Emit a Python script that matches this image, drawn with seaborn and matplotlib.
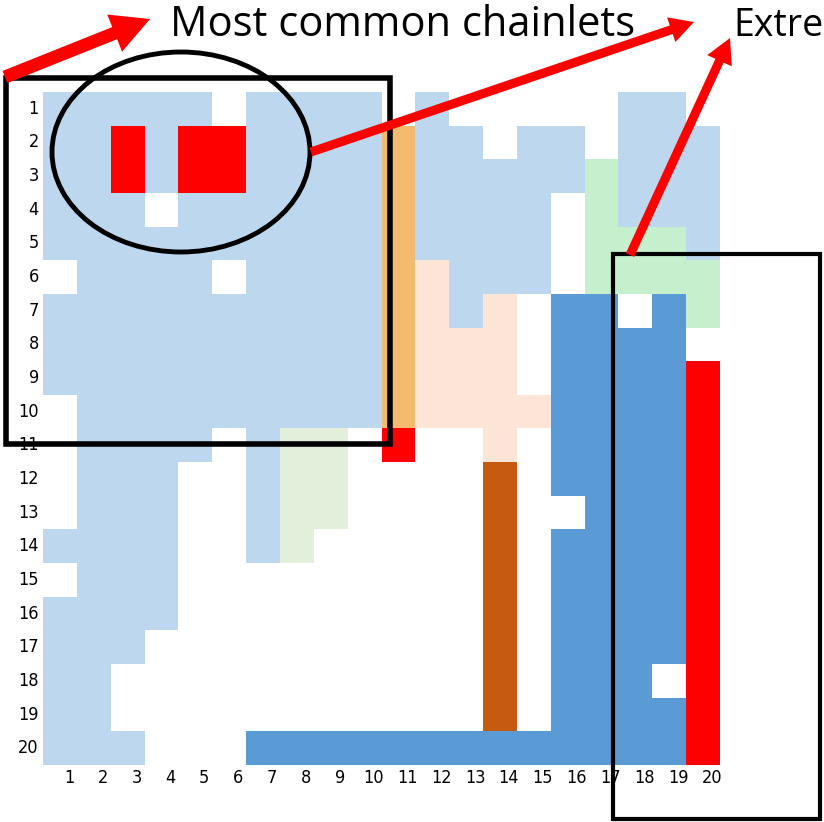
import matplotlib
matplotlib.use("Agg")
import matplotlib.pyplot as plt
import matplotlib.transforms as mtransforms
from matplotlib.colors import ListedColormap
from matplotlib.patches import Rectangle, Ellipse, FancyArrowPatch
import pandas as pd
import seaborn as sns

# chainlet class codes per cell (rows = input count, columns = output count)
row_labels = [str(i) for i in range(1, 21)]
col_labels = [str(i) for i in range(1, 21)]
cell_codes = [
    "LLLLLWLLLLWLWWWWWLLW",
    "LLRLRRLLLLOLLWLLWLLL",
    "LLRLRRLLLLOLLLLLGLLL",
    "LLLWLLLLLLOLLLLWGLLL",
    "LLLLLLLLLLOLLLLWGGGL",
    "WLLLLWLLLLOPLLLWGGGG",
    "LLLLLLLLLLOPLPWMMWMG",
    "LLLLLLLLLLOPPPWMMMMW",
    "LLLLLLLLLLOPPPWMMMMR",
    "WLLLLLLLLLOPPPPMMMMR",
    "WLLLLWLVVWRWWPWMMMMR",
    "WLLLWWLVVWWWWBWMMMMR",
    "WLLLWWLVVWWWWBWWMMMR",
    "LLLLWWLVWWWWWBWMMMMR",
    "WLLLWWWWWWWWWBWMMMMR",
    "LLLLWWWWWWWWWBWMMMMR",
    "LLLWWWWWWWWWWBWMMMMR",
    "LLWWWWWWWWWWWBWMMMWR",
    "LLWWWWWWWWWWWBWMMMMR",
    "LLLWWWMMMMMMMMMMMMMR",
]
class_keys = ["W", "L", "R", "O", "P", "G", "V", "B", "M"]
class_colors = ["#FFFFFF", "#BDD7EE", "#FF0000", "#F3BB6E", "#FCE4D6",
                "#C6EFCE", "#E2EFDA", "#C55A11", "#5B9BD5"]

index_of = {k: i for i, k in enumerate(class_keys)}
grid = pd.DataFrame([[index_of[c] for c in row] for row in cell_codes],
                    index=row_labels, columns=col_labels)

W, H = 824, 822
PT = 0.72  # points per pixel at 100 dpi
fig = plt.figure(figsize=(W / 100, H / 100), dpi=100)


def fpos(x, y):
    return (x / W, 1 - y / H)


ax = fig.add_axes([43 / W, 1 - 765 / H, (720 - 43) / W, (765 - 92) / H])
sns.heatmap(grid, ax=ax, cmap=ListedColormap(class_colors), vmin=-0.5,
            vmax=len(class_keys) - 0.5, cbar=False, linewidths=0,
            xticklabels=col_labels, yticklabels=row_labels)
ax.tick_params(length=0, pad=3)
for t in ax.get_xticklabels() + ax.get_yticklabels():
    t.set_fontsize(13)
    t.set_fontstretch("condensed")
    t.set_rotation(0)
shift = mtransforms.ScaledTranslation(9 / 100, 0, fig.dpi_scale_trans)
for t in ax.get_xticklabels():
    t.set_transform(t.get_transform() + shift)
ax.set_xlabel("")
ax.set_ylabel("")

# highlight boxes and callouts
fig.add_artist(Rectangle(fpos(6, 444), (390 - 6) / W, (444 - 78) / H,
                         transform=fig.transFigure, fill=False,
                         edgecolor="black", linewidth=4))
fig.add_artist(Rectangle(fpos(613, 819), (820 - 613) / W, (819 - 254) / H,
                         transform=fig.transFigure, fill=False,
                         edgecolor="black", linewidth=3))
fig.add_artist(Ellipse(fpos(181, 152), 258 / W, 200 / H,
                       transform=fig.transFigure, fill=False,
                       edgecolor="black", linewidth=3.5))

# (tail, tip, shaft width px, head width px, head length px)
arrows = [((5, 77), (150, 19), 13, 40, 38),
          ((311, 152), (694, 22), 9, 26, 24),
          ((630, 255), (730, 38), 9, 27, 25)]
for (x0, y0), (x1, y1), tw, hw, hl in arrows:
    style = (f"simple,head_length={hl * PT:.1f},head_width={hw * PT:.1f},"
             f"tail_width={tw * PT:.1f}")
    fig.add_artist(FancyArrowPatch(
        fpos(x0, y0), fpos(x1, y1), transform=fig.transFigure,
        arrowstyle=style, mutation_scale=1, linewidth=0,
        facecolor="#FF0000", edgecolor="none", shrinkA=0, shrinkB=0))

fig.text(170 / W, 1 - 36 / H, "Most common chainlets", fontsize=30,
         family="Open Sans", ha="left", va="baseline")
fig.text(733 / W, 1 - 36 / H, "Extre", fontsize=27,
         family="Open Sans", ha="left", va="baseline")

fig.savefig("out.png", dpi=100)
